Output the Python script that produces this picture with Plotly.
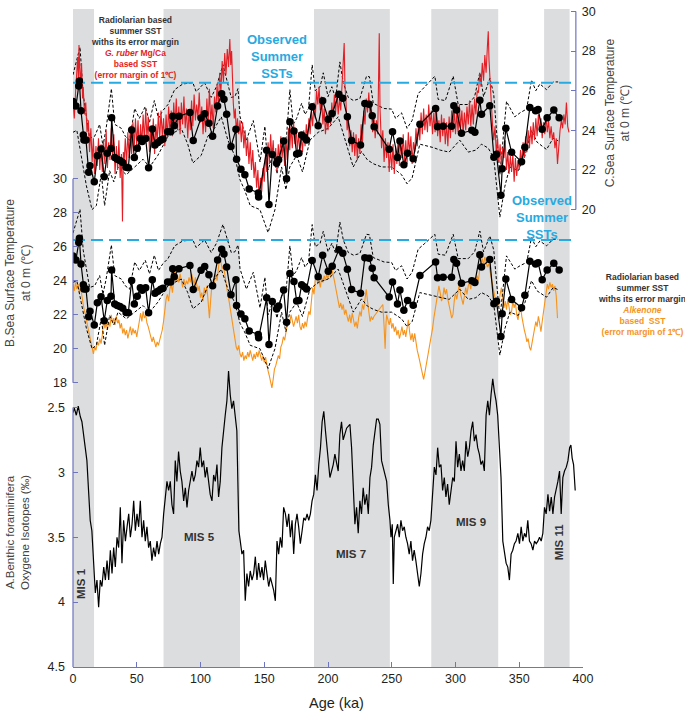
import plotly.graph_objects as go

# ---- data ----
# glacial/interglacial shading (ka)
mis_bands = [(0, 16.5), (71, 131), (189, 248.5), (281, 333.5), (369.5, 389.5)]
observed_sst = 26.4
observed_x = [0, 392]

# radiolarian summer SST (black dots), shared by panel B and C
radiolarian = [
    (0, 25.45), (2.3, 25.22), (4.5, 26.24), (5, 26.49), (6.3, 24.98), (8.1, 23.76), (8.6, 23.51),
    (10.2, 23.51), (12.3, 21.88), (13.3, 22.21), (16.7, 21.40), (19.1, 22.71), (22.0, 23.06),
    (24.5, 21.65), (26.9, 22.84), (29.8, 23.08), (30.3, 24.63), (32.7, 22.63), (34.7, 22.54),
    (36.8, 22.48), (39.0, 22.38), (41.6, 22.13), (43.4, 22.11), (46.0, 24.01), (48.1, 22.63),
    (50.4, 23.09), (52.8, 23.58), (54.3, 23.44), (57.0, 23.58), (59.3, 22.11), (62.2, 24.06),
    (64.3, 23.26), (66.6, 23.38), (68.8, 23.50), (70.6, 23.56), (74.2, 23.93), (76.6, 23.93),
    (78.2, 24.71), (79.4, 24.23), (83.1, 24.71), (91.7, 24.90), (94.3, 23.48), (100.4, 24.62),
    (103.3, 24.83), (106.6, 24.35), (109.5, 23.70), (113.4, 25.22), (116.6, 25.85), (118.4, 25.57),
    (120.5, 24.81), (123.9, 23.18), (127.8, 24.05), (128.3, 22.54), (131.7, 22.04), (134.8, 21.76),
    (138.2, 21.04), (145.3, 20.84), (145.6, 20.64), (151.9, 22.99), (153.7, 20.25), (156.3, 22.78),
    (159.7, 22.34), (161.3, 22.51), (165.2, 23.46), (167.5, 21.55), (170.1, 24.43), (173.3, 23.96),
    (175.4, 22.81), (177.2, 22.84), (179.3, 23.76), (181.4, 23.65), (183.2, 23.51), (187.6, 25.19),
    (192.3, 24.23), (195.8, 25.49), (200.2, 24.56), (203.3, 24.85), (208.5, 25.82), (211.6, 25.62),
    (215.2, 24.68), (218.5, 23.48), (225.5, 23.26), (228.9, 25.35), (232.3, 25.32), (234.7, 24.73),
    (236.2, 24.18), (248.0, 23.04), (250.6, 23.93), (254.5, 22.63), (256.4, 23.46), (259.5, 22.26),
    (262.4, 22.84), (266.8, 22.56), (272.1, 24.30), (284.4, 25.10), (285.9, 24.18), (290.3, 24.21),
    (296.9, 24.21), (298.7, 25.24), (300.8, 25.02), (304.7, 23.85), (312.8, 24.00), (315.2, 23.90),
    (319.1, 25.52), (320.4, 24.81), (326.9, 25.24), (330.1, 22.64), (332.2, 22.79), (335.6, 20.72),
    (336.6, 22.06), (339.5, 24.10), (344.0, 22.89), (351.8, 22.41), (354.4, 23.14), (358.3, 25.15),
    (362.8, 24.98), (364.8, 25.05), (368.0, 24.05), (371.9, 24.63), (377.1, 25.02), (381.3, 24.63),
]

# radiolarian error margin (dashed)
rad_upper = [
    (0, 26.8), (5.5, 28.2), (8, 25.8), (10.5, 24.6), (13, 23.6), (17, 23.7), (20.9, 24.3), (23.5, 23.2),
    (26, 24.1), (30.1, 26.1), (32.7, 24.3), (37.9, 24.1), (41, 23.7), (44.4, 23.5), (48.4, 25.1),
    (52, 24.6), (56.7, 25.2), (60, 24.4), (63.8, 25.5), (67, 24.6), (70.5, 25.0), (74.5, 25.3),
    (79.7, 26.05), (86.2, 26.34), (94, 26.4), (96.6, 25.95), (103.2, 26.4), (108.4, 25.66),
    (112.5, 26.2), (117.6, 27.31), (124.1, 25.66), (127, 25.7), (129.4, 26.1), (131, 24.7),
    (136, 23.5), (141.4, 24.49), (146.7, 22.4), (150.5, 24.2), (153, 22.0), (157, 22.8), (160, 21.8),
    (163, 23.0), (167.5, 23.7), (170.1, 26.05), (172.7, 24.3), (175.4, 24.6), (179.3, 25.36),
    (182, 24.8), (184.7, 25.1), (187.6, 27.3), (190, 26.0), (193.8, 26.2), (196.3, 26.9), (200, 25.7),
    (203, 26.2), (206, 25.6), (209.3, 27.45), (212, 26.4), (215.9, 25.66), (220, 25.5), (225, 25.6),
    (230.2, 26.73), (232.5, 26.7), (235.5, 25.36), (240, 25.2), (244, 25.1), (249.9, 25.07),
    (253, 24.6), (257.7, 24.88), (262, 24.1), (266, 24.5), (270.7, 25.85), (276, 26.2),
    (283.8, 26.73), (286.4, 25.56), (292, 25.5), (298.2, 26.73), (302.1, 25.3), (310, 25.3),
    (315, 25.7), (319.1, 26.92), (322, 25.7), (327, 26.63), (330, 25.8), (334.8, 21.76), (340, 25.46),
    (346.5, 24.68), (351, 24.9), (355.8, 25.07), (359.6, 26.53), (363, 26.0), (366.2, 26.34),
    (371.4, 26.05), (376.6, 26.44), (380.5, 26.44),
]
rad_lower = [
    (0, 23.9), (3, 24.0), (6.5, 22.7), (10.5, 21.2), (14.9, 20.0), (18.3, 20.2), (22.2, 21.8),
    (24.8, 20.2), (28.7, 21.96), (32, 21.4), (35.3, 22.15), (41.8, 21.76), (48.4, 22.15),
    (54.9, 22.54), (60.1, 22.15), (66.6, 22.74), (74.5, 23.7), (84.9, 24.1), (90, 23.3), (94, 22.35),
    (100.6, 22.74), (105.8, 23.7), (111, 24.1), (116.3, 24.68), (121.5, 23.5), (126.7, 22.74),
    (131, 21.5), (134.5, 21.0), (139, 20.2), (146.6, 20.0), (153, 18.84), (158.4, 20.0),
    (163.6, 22.15), (167, 21.0), (170, 22.15), (175.4, 22.73), (180, 21.9), (185.8, 23.5),
    (192.3, 23.9), (200.2, 24.1), (208, 24.68), (215.9, 22.93), (219.8, 22.15), (226.3, 22.93),
    (231, 22.5), (236, 22.3), (242.1, 22.15), (249.9, 22.15), (257.7, 21.76), (262, 21.3),
    (266, 21.6), (272, 23.3), (282.5, 23.13), (288, 23.0), (295, 22.9), (303.4, 23.5), (310, 22.9),
    (316, 23.0), (320.4, 23.3), (325.7, 23.1), (330, 22.6), (334.8, 19.62), (338.7, 21.17),
    (342.6, 22.15), (349.2, 21.96), (354.4, 22.7), (359.6, 24.0), (364, 23.4), (371.4, 23.03),
    (376.6, 23.6), (380.5, 23.47),
]

# G. ruber Mg/Ca SST (panel C, red)
mgca_sst = [
    (0, 25.5), (1, 24.6), (2, 25.9), (3, 26.8), (3.7, 27.7), (4.3, 26.5), (4.7, 28.3), (5.3, 27.2),
    (6, 26.2), (6.7, 27.4), (7.5, 25.6), (8, 26.2), (9, 24.8), (10, 25.4), (11, 23.9), (12, 24.5),
    (13, 22.9), (14, 24.1), (15, 22.4), (16, 23.6), (17, 21.8), (18, 23.2), (19, 22.2), (20, 23.6),
    (21, 22.0), (22, 23.3), (23, 21.9), (24, 23.5), (25, 22.3), (26, 24.0), (27, 22.1), (28, 23.4),
    (29, 22.5), (30, 24.1), (31, 22.7), (32, 23.8), (33, 21.8), (34, 23.2), (35, 22.0), (36, 23.5),
    (37, 21.6), (38, 22.8), (38.8, 19.4), (39.5, 22.9), (40, 22.2), (41, 23.6), (42, 22.3), (43, 23.9),
    (44, 22.6), (45, 24.2), (46, 22.8), (47, 24.4), (48, 23.1), (49, 24.6), (50, 23.2), (51, 24.5),
    (52, 22.9), (53, 24.3), (54, 23.3), (55, 24.8), (56, 23.4), (57, 25.1), (58, 23.6), (59, 24.7),
    (60, 22.9), (61, 24.2), (62, 23.1), (63, 24.6), (64, 22.8), (65, 24.3), (66, 23.4), (67, 24.9),
    (68, 23.5), (69, 25.0), (70, 23.7), (71, 24.6), (72, 23.2), (73, 24.8), (74, 23.6), (75, 25.2),
    (76, 23.9), (77, 25.0), (78, 23.7), (79, 25.4), (80, 24.2), (81, 25.6), (82, 24.0), (83, 25.2),
    (84, 23.8), (85, 25.4), (86, 24.3), (87, 25.7), (88, 24.1), (89, 25.1), (90, 23.6), (91, 25.0),
    (92, 24.0), (93, 25.5), (94, 24.2), (95, 25.8), (96, 24.5), (97, 25.3), (98, 24.6), (99, 25.9),
    (100, 24.4), (101, 25.2), (102, 23.8), (103, 24.9), (104, 23.9), (105, 25.6), (106, 24.3),
    (107, 26.1), (108, 24.4), (109, 25.3), (110, 24.1), (111, 25.7), (112, 24.9), (113, 26.3),
    (114, 25.2), (115, 26.9), (116, 25.9), (117, 27.5), (118, 26.4), (119, 27.9), (120, 26.8),
    (121, 28.1), (122, 27.2), (123, 28.6), (123.7, 27.3), (124.4, 28.0), (125, 26.2), (125.7, 25.4),
    (126.5, 24.6), (127.3, 25.1), (128, 23.9), (129, 24.6), (130, 23.8), (131, 24.5), (132, 23.4),
    (133, 24.4), (134, 23.1), (135, 24.0), (136, 22.7), (137, 23.6), (138, 22.3), (139, 23.4),
    (140, 22.0), (141, 23.0), (142, 21.6), (143, 22.4), (144, 21.1), (145, 22.0), (146, 20.5),
    (147, 21.6), (148, 20.9), (149, 22.1), (150, 21.4), (151, 22.8), (152, 21.9), (153, 23.4),
    (154, 22.3), (155, 23.8), (156, 22.6), (157, 23.5), (158, 22.2), (159, 23.1), (160, 21.9),
    (161, 23.3), (162, 22.4), (163, 23.7), (164, 22.6), (165, 23.4), (166, 22.2), (167, 23.6),
    (168, 22.5), (169, 24.1), (170, 23.0), (171, 24.2), (172, 23.1), (173, 24.4), (174, 23.3),
    (175, 24.1), (176, 23.0), (177, 23.9), (178, 22.8), (179, 23.7), (180, 22.9), (181, 24.0),
    (182, 23.2), (183, 24.3), (184, 23.5), (185, 24.6), (186, 23.8), (187, 25.0), (188, 24.2),
    (189, 25.4), (190, 24.6), (191, 26.0), (192, 25.3), (193, 26.2), (194, 25.0), (195, 25.7),
    (196, 24.3), (197, 25.1), (198, 23.8), (199, 24.7), (200, 24.0), (201, 25.0), (202, 24.3),
    (203, 25.4), (204, 24.6), (205, 25.8), (206, 24.9), (207, 25.9), (208, 24.8), (209, 25.6),
    (210, 25.0), (211, 26.3), (212, 27.0), (212.7, 28.4), (213.3, 26.2), (214, 25.6), (215, 24.0),
    (216, 24.6), (217, 23.2), (218, 24.0), (219, 22.9), (220, 23.9), (221, 22.7), (222, 23.8),
    (223, 22.5), (224, 23.6), (225, 22.8), (226, 24.3), (227, 23.4), (228, 25.0), (229, 24.3),
    (230, 25.6), (231, 24.9), (232, 25.9), (233, 24.7), (234, 25.2), (235, 23.9), (236, 24.8),
    (237, 23.6), (238, 24.5), (239, 23.8), (240.2, 28.9), (240.8, 25.1), (241.5, 24.0), (242, 23.1),
    (243, 24.0), (244, 22.4), (245, 23.6), (246, 22.6), (247, 23.4), (248, 21.9), (249, 23.1),
    (250, 22.0), (251, 23.3), (252, 21.8), (253, 23.2), (254, 22.3), (255, 23.6), (256, 22.2),
    (257, 23.4), (258, 22.6), (259, 23.8), (260, 22.4), (261, 23.5), (262, 22.3), (263, 23.9),
    (264, 22.8), (265, 23.7), (266, 22.3), (267, 23.4), (268, 22.9), (269, 24.1), (270, 23.2),
    (271, 24.4), (272, 23.5), (273, 24.9), (274, 23.8), (275, 25.1), (276, 24.0), (277, 24.8),
    (278, 23.9), (279, 25.3), (280, 24.2), (281, 25.0), (282, 23.8), (283, 24.9), (284, 23.9),
    (285, 25.2), (286, 23.7), (287, 24.5), (288, 23.4), (289, 24.8), (290, 23.7), (291, 24.6),
    (292, 23.3), (293, 24.4), (294, 23.2), (295, 24.7), (296, 23.6), (297, 25.0), (298, 23.9),
    (299, 25.1), (300, 23.8), (301, 24.9), (302, 23.9), (303, 25.3), (304, 24.1), (305, 25.0),
    (306, 23.8), (307, 24.9), (308, 24.0), (309, 25.2), (310, 24.3), (311, 25.5), (312, 24.2),
    (313, 25.3), (314, 24.3), (315, 25.6), (316, 24.8), (317, 26.0), (318, 25.9), (319, 26.9),
    (320, 26.2), (321, 27.4), (322, 26.5), (323, 27.8), (324, 26.9), (325, 28.2), (325.7, 29.0),
    (326.3, 27.5), (327, 26.6), (328, 25.2), (329, 24.3), (330, 23.5), (331, 24.2), (332, 22.8),
    (333, 23.6), (334, 22.4), (335, 23.3), (336, 22.2), (337, 23.1), (338, 22.6), (339, 23.5),
    (340, 22.0), (341, 22.9), (342, 21.8), (343, 22.7), (344, 21.9), (345, 22.8), (346, 21.4),
    (347, 22.6), (348, 21.7), (349, 22.5), (350, 22.0), (351, 23.0), (352, 22.3), (353, 23.4),
    (354, 22.6), (355, 23.7), (356, 22.9), (357, 24.0), (358, 23.1), (359, 24.2), (360, 23.3),
    (361, 24.4), (362, 23.5), (363, 24.6), (364, 23.7), (365, 24.8), (366, 23.9), (367, 24.6),
    (368, 23.6), (369, 24.4), (370, 23.8), (371, 24.7), (372, 23.9), (373, 24.5), (374, 23.6),
    (375, 24.2), (376, 23.5), (377, 23.9), (378, 23.1), (379, 23.6), (380, 22.3), (381, 23.4),
    (382, 24.0), (383, 24.5), (384, 24.1), (385, 24.8), (386, 24.3), (387, 25.4), (388, 24.2),
    (389, 23.9),
]

# alkenone SST (panel B, orange)
alkenone_sst = [
    (0, 23.8), (1, 23.4), (2, 23.9), (3, 23.5), (4, 23.8), (5, 23.3), (6, 23.6), (7, 22.9), (8, 22.6),
    (9, 22.2), (10, 22.0), (11, 21.5), (12, 21.1), (13, 20.7), (14, 20.3), (15, 19.9), (16, 19.7),
    (17, 20.1), (18, 19.9), (19, 20.4), (20, 20.2), (21, 20.6), (22, 20.3), (23, 20.8), (24, 21.7),
    (25, 21.2), (26, 21.5), (27, 21.1), (28, 21.6), (29, 21.3), (30, 22.0), (31, 21.5), (32, 21.8),
    (33, 21.4), (34, 21.9), (35, 21.5), (36, 21.7), (37, 21.2), (38, 21.5), (39, 20.9), (40, 21.2),
    (41, 20.8), (42, 21.1), (43, 20.6), (44, 20.9), (45, 21.3), (46, 20.8), (47, 21.2), (48, 20.9),
    (49, 21.1), (50, 20.7), (51, 21.3), (52, 21.6), (53, 22.1), (54, 21.6), (55, 22.2), (56, 21.8),
    (57, 22.0), (58, 21.5), (59, 21.3), (60, 21.0), (61, 20.8), (62, 20.4), (63, 20.7), (64, 20.3),
    (65, 20.1), (66, 20.4), (67, 20.2), (68, 20.5), (69, 20.8), (70, 21.1), (71, 21.6), (72, 22.5),
    (73, 22.9), (74, 23.2), (75, 22.8), (76, 23.5), (77, 23.8), (78, 23.3), (79, 24.2), (80, 24.7),
    (81, 24.0), (82, 24.3), (83, 23.9), (84, 24.4), (85, 24.0), (86, 23.6), (87, 24.1), (88, 23.7),
    (89, 24.0), (90, 23.8), (91, 24.2), (92, 23.9), (93, 24.4), (94, 24.1), (95, 23.8), (96, 24.2),
    (97, 23.7), (98, 23.4), (99, 23.7), (100, 23.0), (101, 23.3), (102, 22.8), (103, 23.6),
    (104, 23.2), (105, 23.7), (106, 22.6), (107, 21.8), (108, 22.9), (109, 23.8), (110, 23.5),
    (111, 24.1), (112, 24.4), (113, 24.0), (114, 24.8), (115, 25.4), (116, 25.1), (117, 24.7),
    (118, 24.9), (119, 24.3), (120, 23.9), (121, 23.4), (122, 23.0), (123, 22.5), (124, 22.1),
    (125, 21.5), (126, 21.0), (127, 20.6), (128, 20.1), (129, 19.9), (130, 20.2), (131, 19.7),
    (132, 19.5), (133, 19.8), (134, 19.3), (135, 19.6), (136, 19.4), (137, 19.8), (138, 19.5),
    (139, 19.9), (140, 19.6), (141, 19.3), (142, 19.7), (143, 19.4), (144, 19.8), (145, 19.5),
    (146, 19.9), (147, 19.6), (148, 19.3), (149, 19.6), (150, 19.2), (151, 19.5), (152, 19.0),
    (153, 18.7), (154, 18.4), (155, 18.0), (156, 17.7), (157, 18.2), (158, 18.8), (159, 19.0),
    (160, 19.3), (161, 19.6), (162, 19.4), (163, 20.1), (164, 20.3), (165, 20.7), (166, 20.5),
    (167, 21.1), (168, 21.4), (169, 21.7), (170, 21.5), (171, 22.0), (172, 21.6), (173, 21.3),
    (174, 21.6), (175, 21.9), (176, 21.5), (177, 22.0), (178, 21.3), (179, 21.1), (180, 21.5),
    (181, 21.2), (182, 21.6), (183, 21.3), (184, 21.8), (185, 22.2), (186, 22.0), (187, 22.8),
    (188, 23.6), (189, 23.2), (190, 24.0), (191, 24.3), (192, 23.8), (193, 24.0), (194, 23.6),
    (195, 24.2), (196, 23.9), (197, 24.3), (198, 24.0), (199, 24.4), (200, 24.1), (201, 24.6),
    (202, 24.2), (203, 24.7), (204, 24.4), (205, 24.0), (206, 23.6), (207, 23.1), (208, 22.8),
    (209, 22.4), (210, 22.7), (211, 22.3), (212, 22.6), (213, 22.0), (214, 22.3), (215, 21.9),
    (216, 21.6), (217, 22.0), (218, 21.5), (219, 22.1), (220, 21.7), (221, 21.3), (222, 21.6),
    (223, 21.2), (224, 21.8), (225, 22.2), (226, 21.9), (227, 22.6), (228, 22.3), (229, 23.0),
    (230, 23.5), (231, 22.8), (232, 22.1), (233, 21.6), (234, 21.9), (235, 21.7), (236, 21.9),
    (237, 22.0), (238, 22.1), (239, 22.2), (240, 22.3), (241, 22.4), (242, 22.5), (243, 22.6),
    (244, 21.3), (244.8, 20.0), (245.5, 21.5), (246, 22.0), (247, 21.7), (248, 21.4), (249, 21.8),
    (250, 21.2), (251, 21.5), (252, 21.0), (253, 21.3), (254, 20.8), (255, 21.1), (256, 20.6),
    (257, 20.9), (258, 21.3), (259, 20.8), (260, 21.1), (261, 20.7), (262, 21.4), (263, 21.7),
    (264, 21.0), (265, 20.5), (266, 20.9), (267, 20.4), (268, 20.9), (269, 20.3), (270, 19.9),
    (271, 19.6), (272, 19.2), (273, 18.9), (274, 18.5), (275, 18.2), (276, 18.6), (277, 19.0),
    (278, 19.4), (279, 19.9), (280, 20.3), (281, 20.7), (282, 21.2), (283, 21.8), (284, 22.3),
    (285, 22.8), (286, 23.2), (287, 23.7), (288, 23.3), (289, 22.8), (290, 23.0), (291, 23.6),
    (292, 23.2), (293, 23.5), (294, 22.9), (295, 22.6), (296, 22.2), (297, 21.8), (298, 22.0),
    (299, 22.8), (300, 23.3), (301, 22.9), (302, 23.5), (303, 23.8), (304, 23.2), (305, 22.9),
    (306, 22.6), (307, 23.1), (308, 23.6), (309, 23.2), (310, 23.7), (311, 23.9), (312, 23.5),
    (313, 24.1), (314, 23.8), (315, 24.2), (316, 23.9), (317, 24.3), (318, 24.0), (319, 24.7),
    (320, 25.0), (321, 25.3), (322, 24.9), (323, 25.4), (324, 25.1), (325, 24.8), (326, 25.0),
    (327, 24.6), (328, 24.1), (329, 23.8), (330, 23.3), (331, 23.0), (332, 22.6), (333, 22.9),
    (334, 22.5), (335, 23.2), (336, 23.6), (337, 23.0), (338, 22.4), (339, 22.8), (340, 22.3),
    (341, 22.9), (342, 22.5), (343, 22.0), (344, 22.2), (345, 22.8), (346, 22.4), (347, 22.7),
    (348, 22.0), (349, 21.7), (350, 22.2), (351, 22.5), (352, 21.9), (353, 21.4), (354, 21.1),
    (355, 20.8), (356, 20.4), (357, 20.6), (358, 20.1), (359, 19.9), (360, 20.3), (361, 20.9),
    (362, 21.2), (363, 21.6), (364, 21.3), (365, 21.9), (366, 21.5), (367, 21.0), (368, 21.6),
    (369, 22.2), (370, 22.7), (371, 23.4), (372, 23.8), (373, 23.5), (374, 23.9), (375, 23.6),
    (376, 23.8), (377, 23.4), (378, 23.7), (379, 23.1), (380, 21.8),
]

# benthic foraminifera d18O (panel A)
benthic_d18o = [
    (0, 2.54), (1, 2.505), (2.6, 2.56), (4.1, 2.49), (5.7, 2.57), (7, 2.61), (9.6, 2.81), (10.9, 2.91),
    (12.2, 3.14), (13.5, 3.37), (14.8, 3.45), (16.2, 3.73), (17.5, 3.93), (18.8, 3.83), (20.1, 4.04),
    (21.4, 3.83), (22.7, 3.88), (24.1, 3.73), (25.4, 3.83), (26.7, 3.68), (28, 3.83), (29.3, 3.6),
    (30.6, 3.78), (31.9, 3.58), (33.2, 3.73), (34.5, 3.5), (35.8, 3.58), (37.1, 3.27), (38.4, 3.7),
    (39.7, 3.37), (41.1, 3.53), (42.4, 3.42), (43.7, 3.32), (45, 3.5), (46.3, 3.4), (47.6, 3.22),
    (48.9, 3.45), (50.2, 3.32), (51.5, 3.42), (52.8, 3.22), (54.1, 3.5), (55.4, 3.37), (56.7, 3.53),
    (58, 3.42), (59.3, 3.58), (60.6, 3.53), (61.9, 3.68), (63.2, 3.58), (64.5, 3.65), (65.9, 3.53),
    (67.2, 3.63), (68.5, 3.55), (69.8, 3.5), (71.1, 3.32), (72.4, 3.17), (73.7, 3.07), (75, 3.14),
    (76.3, 3.07), (77.6, 3.25), (78.9, 3.32), (80.2, 2.91), (81.5, 3.07), (82.8, 2.84), (84.1, 2.99),
    (85.4, 3.07), (86.8, 3.22), (88.1, 3.12), (89.4, 3.27), (90.7, 3.14), (92, 3.07), (93.3, 2.99),
    (94.6, 3.07), (95.9, 3.02), (97.2, 2.91), (98.5, 2.96), (99.8, 2.81), (101.1, 2.96), (102.4, 2.91),
    (103.7, 3.04), (105, 2.96), (106.3, 3.07), (107.6, 3.17), (109, 3.22), (110.3, 3.02), (111.6, 3.07),
    (112.9, 2.94), (114.2, 3.19), (115.5, 3.07), (116.8, 2.81), (118.1, 2.66), (119.4, 2.56),
    (120.7, 2.45), (122, 2.22), (123.3, 2.4), (124.6, 2.51), (125.9, 2.45), (127.2, 2.56), (128.5, 2.68),
    (129.3, 3.07), (130.1, 3.45), (131.2, 3.53), (132.5, 3.63), (133.8, 3.6), (135.1, 3.99),
    (136.4, 3.78), (137.7, 3.88), (139, 3.76), (140.4, 3.83), (141.7, 3.78), (143, 3.65), (144.3, 3.83),
    (145.6, 3.7), (146.9, 3.81), (148.2, 3.73), (149.5, 3.83), (150.8, 3.68), (152.1, 3.78),
    (153.5, 3.88), (154.8, 3.81), (156.1, 3.86), (157.4, 3.91), (158.7, 3.99), (160, 3.53),
    (161.3, 3.63), (162.6, 3.5), (163.9, 3.58), (165.2, 3.27), (166.6, 3.32), (167.9, 3.42),
    (169.2, 3.32), (170.5, 3.5), (171.8, 3.37), (173.1, 3.63), (174.4, 3.4), (175.7, 3.32), (177, 3.42),
    (178.3, 3.55), (179.7, 3.45), (181, 3.35), (182.3, 3.37), (183.6, 3.32), (184.9, 3.37),
    (186.2, 3.32), (187.5, 3.22), (188.8, 3.17), (190.1, 3.02), (191.4, 3.14), (192.8, 2.94),
    (194.1, 2.81), (195.4, 2.61), (196.7, 2.53), (198, 2.68), (199.3, 2.81), (200.6, 2.94),
    (201.5, 3.04), (204.1, 2.94), (205.4, 2.86), (208.0, 2.99), (209.3, 2.71), (210.6, 2.61),
    (211.9, 2.75), (214.6, 2.66), (217.2, 2.63), (218.5, 2.81), (219.8, 3.12), (221.1, 3.4),
    (222.4, 3.27), (223.7, 3.47), (225, 3.22), (226.3, 3.32), (227.6, 3.12), (228.9, 3.25),
    (230.3, 3.17), (231.6, 3.32), (232.9, 3.04), (234.2, 2.96), (235.5, 2.79), (236.8, 2.68),
    (238.1, 2.59), (239.4, 2.59), (240.7, 2.63), (242, 2.91), (243.4, 2.96), (244.7, 3.02), (246, 3.07),
    (247.3, 3.25), (248.6, 3.37), (249.4, 3.5), (250.4, 3.4), (251.2, 3.86), (252, 3.5), (253.3, 3.45),
    (254.6, 3.4), (255.9, 3.5), (257.2, 3.37), (258.5, 3.45), (259.8, 3.42), (261.1, 3.5),
    (262.4, 3.55), (263.7, 3.63), (265, 3.53), (266.3, 3.68), (267.6, 3.6), (268.9, 3.68),
    (270.3, 3.78), (271.6, 3.88), (272.9, 3.78), (274.2, 3.63), (275.5, 3.55), (276.8, 3.5),
    (278.1, 3.42), (279.4, 3.45), (280.7, 3.37), (282, 3.17), (283.4, 2.96), (284.7, 3.02), (286, 2.81),
    (287.3, 2.96), (288.6, 2.94), (289.9, 3.14), (291.2, 3.04), (292.5, 3.19), (293.8, 3.09),
    (295.1, 3.25), (296.4, 3.14), (297.8, 3.04), (299.1, 3.07), (300.4, 2.76), (301.7, 2.96),
    (303, 2.86), (304.3, 2.99), (305.6, 2.91), (306.9, 2.99), (308.2, 2.76), (309.6, 2.88),
    (310.9, 2.81), (312.2, 2.68), (313.5, 2.61), (314.8, 2.76), (316.1, 2.71), (317.4, 2.81),
    (318.7, 2.86), (320, 2.94), (321.3, 2.91), (322.6, 2.99), (324, 2.56), (325.3, 2.45), (326.6, 2.56),
    (327.9, 2.4), (329.2, 2.28), (330.5, 2.38), (331.8, 2.45), (333.1, 2.56), (334.4, 2.76),
    (335.7, 3.04), (337.1, 3.53), (338.4, 3.63), (339.7, 3.7), (341, 3.73), (342.3, 3.83), (343.6, 3.63),
    (344.9, 3.6), (346.2, 3.55), (347.5, 3.53), (348.9, 3.47), (350.2, 3.55), (351.5, 3.42),
    (352.8, 3.53), (354.1, 3.47), (355.4, 3.5), (356.7, 3.37), (358, 3.53), (359.3, 3.55), (360.7, 3.6),
    (362, 3.53), (363.3, 3.55), (364.6, 3.53), (365.9, 3.5), (367.2, 3.53), (368.5, 3.47),
    (369.8, 3.27), (371.1, 3.32), (372.5, 3.17), (373.8, 3.3), (375.1, 3.19), (376.4, 3.32),
    (377.7, 3.19), (379, 3.14), (380.3, 3.07), (381.6, 2.99), (382.9, 3.32), (384.2, 3.04),
    (385.5, 2.99), (386.9, 2.96), (388.2, 2.91), (389.5, 2.81), (390.5, 2.79), (391.5, 2.89),
    (392.6, 2.94), (393.9, 3.14),
]

# MIS labels: (text, age, d18O position, rotated)
mis_labels = [("MIS 1", 6.3, 3.86, True), ("MIS 5", 99.6, 3.5, False), ("MIS 7", 217.9, 3.63, False),
              ("MIS 9", 312, 3.38, False), ("MIS 11", 381.8, 3.54, True)]

# ---- styles ----
FONT = "Liberation Sans, Arial, sans-serif"
AXIS_COLOR = '#6f74bf'
TEXT_COLOR = '#231f20'
RED = '#e31e24'
ORANGE = '#f7941d'
CYAN = '#27aae1'
BAND = '#dcdddf'


def xs(pairs):
    return [p[0] for p in pairs]


def ys(pairs):
    return [p[1] for p in pairs]


fig = go.Figure()

# A. benthic d18O
fig.add_trace(go.Scatter(x=xs(benthic_d18o), y=ys(benthic_d18o), mode='lines', yaxis='y',
                         line=dict(color='black', width=1.2)))

# B. alkenone + radiolarian
fig.add_trace(go.Scatter(x=xs(alkenone_sst), y=ys(alkenone_sst), mode='lines', yaxis='y2',
                         line=dict(color=ORANGE, width=1.1)))
for bound in (rad_upper, rad_lower):
    fig.add_trace(go.Scatter(x=xs(bound), y=ys(bound), mode='lines', yaxis='y2',
                             line=dict(color='black', width=1, dash='3px,2px')))
fig.add_trace(go.Scatter(x=observed_x, y=[observed_sst] * 2, mode='lines', yaxis='y2',
                         line=dict(color=CYAN, width=2, dash='12px,6px')))
fig.add_trace(go.Scatter(x=xs(radiolarian), y=ys(radiolarian), mode='lines+markers', yaxis='y2',
                         line=dict(color='black', width=1.2), marker=dict(color='black', size=7.5)))

# C. Mg/Ca + radiolarian
for bound in (rad_upper, rad_lower):
    fig.add_trace(go.Scatter(x=xs(bound), y=ys(bound), mode='lines', yaxis='y3',
                             line=dict(color='black', width=1, dash='3px,2px')))
fig.add_trace(go.Scatter(x=xs(mgca_sst), y=ys(mgca_sst), mode='lines', yaxis='y3',
                         line=dict(color=RED, width=1.1)))
fig.add_trace(go.Scatter(x=observed_x, y=[observed_sst] * 2, mode='lines', yaxis='y3',
                         line=dict(color=CYAN, width=2, dash='12px,6px')))
fig.add_trace(go.Scatter(x=xs(radiolarian), y=ys(radiolarian), mode='lines+markers', yaxis='y3',
                         line=dict(color='black', width=1.2), marker=dict(color='black', size=7.5)))

# MIS shading
shapes = [dict(type='rect', xref='x', yref='paper', x0=a, x1=b, y0=0, y1=1,
               fillcolor=BAND, line_width=0, layer='below') for a, b in mis_bands]
# partial y axis lines
shapes += [
    dict(type='line', xref='paper', yref='y', x0=0, x1=0, y0=2.5, y1=4.5, line=dict(color=AXIS_COLOR, width=1.2)),
    dict(type='line', xref='paper', yref='y2', x0=0, x1=0, y0=18, y1=30, line=dict(color=AXIS_COLOR, width=1.2)),
    dict(type='line', xref='paper', yref='y3', x0=0.986, x1=0.986, y0=20, y1=30,
         line=dict(color=AXIS_COLOR, width=1.2)),
]

tick_font = dict(family=FONT, size=12.5, color=TEXT_COLOR)
yaxis_common = dict(showgrid=False, zeroline=False, showline=False, ticks='inside', ticklen=5,
                    tickcolor=AXIS_COLOR, tickfont=tick_font, domain=[0, 1], fixedrange=True)


def note(x, y, text, size, color, bold=False, angle=0, ref='paper'):
    return dict(x=x, y=y, xref='x' if ref == 'data' else 'paper', yref='y' if ref == 'data' else 'paper',
                text=text, showarrow=False, textangle=angle, align='center',
                xanchor='center', yanchor='middle',
                font=dict(family=FONT, size=size, color=color, weight='bold' if bold else 'normal'))


annotations = [note(age, pos, text, 11.5, '#333333', bold=True, angle=-90 if rotated else 0, ref='data')
               for text, age, pos, rotated in mis_labels]

annotations += [
    note(0.1216, 0.941, "Radiolarian based<br>summer SST<br>withs its error margin<br>"
         f"<span style='color:{RED}'><i>G. ruber</i> Mg/Ca<br>based SST<br>(error margin of 1℃)</span>",
         8.5, '#333333', bold=True),
    note(0.4, 0.9275, "Observed<br>Summer<br>SSTs", 13, CYAN, bold=True),
    note(0.919, 0.6828, "Observed<br>Summer<br>SSTs", 13, CYAN, bold=True),
    note(1.115, 0.5514, "Radiolarian based<br>summer SST<br>withs its error margin<br>"
         f"<span style='color:{ORANGE}'><i>Alkenone</i><br>based  SST<br>(error margin of 1℃)</span>",
         8.5, '#333333', bold=True),
    note(-0.1088, 0.2044, "A.Benthic foraminifera<br>Oxygene Isotopes (‰)", 11.5, '#444444', angle=-90),
    note(-0.1069, 0.5997, "B.Sea Surface Temperature<br>at 0 m (℃)", 12, '#444444', angle=-90),
    note(1.0686, 0.8429, "C.Sea Surface Temperature<br>at 0 m (℃)", 12, '#444444', angle=-90),
    note(0.5157, -0.0544, "Age (ka)", 14.5, TEXT_COLOR),
]

fig.update_layout(
    width=685, height=714,
    margin=dict(l=73, r=102, t=5, b=47),
    paper_bgcolor='white', plot_bgcolor='rgba(0,0,0,0)',
    showlegend=False,
    shapes=shapes,
    annotations=annotations,
    xaxis=dict(range=[0, 400], tickvals=[0, 50, 100, 150, 200, 250, 300, 350, 400],
               showgrid=False, zeroline=False, showline=True, linecolor=AXIS_COLOR, linewidth=1.2,
               ticks='inside', ticklen=5, tickcolor=AXIS_COLOR, tickfont=tick_font, fixedrange=True),
    yaxis=dict(range=[4.5, -0.57], tickvals=[2.5, 3, 3.5, 4, 4.5], ticktext=['2.5', '3', '3.5', '4', '4.5'],
               ticklabelstandoff=7, **yaxis_common),
    yaxis2=dict(range=[1.28, 39.98], tickvals=[18, 20, 22, 24, 26, 28, 30], overlaying='y',
                ticklabelstandoff=5, **yaxis_common),
    yaxis3=dict(range=[-3.08, 30.12], tickvals=[20, 22, 24, 26, 28, 30], overlaying='y', side='right',
                anchor='free', position=0.986, ticklabelstandoff=5, **yaxis_common),
)

# page has a default 8px body margin; drop it so the figure sits at the window corner
fig.write_html("out.html", config={'displayModeBar': False},
               post_script="document.body.style.margin='0';")
